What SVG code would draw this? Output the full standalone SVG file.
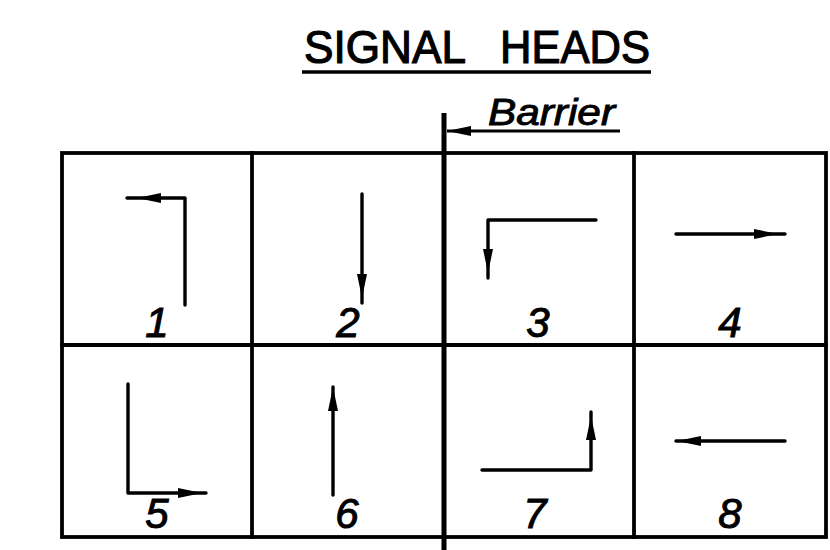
<svg xmlns="http://www.w3.org/2000/svg" xmlns:xlink="http://www.w3.org/1999/xlink" width="830" height="550" viewBox="0 0 830 550">
<style>
.grid{fill:none;stroke:#000;stroke-width:3.8;stroke-linecap:square}
.sig{fill:none;stroke:#000;stroke-width:3.4;stroke-linecap:round;stroke-linejoin:round}
.num{font-family:"Liberation Sans",Arial,sans-serif;font-style:italic;font-size:42px;text-anchor:middle;fill:#000;stroke:#000;stroke-width:1}
.title{font-family:"Liberation Sans",Arial,sans-serif;font-size:46px;fill:#000;stroke:#000;stroke-width:1.2}
.bar{font-family:"Liberation Sans",Arial,sans-serif;font-style:italic;font-size:36px;fill:#000;stroke:#000;stroke-width:0.9}
</style>
<defs>
<path id="ah" d="M0,0 L-24,-5 L-24,5 Z" fill="#000"/>
</defs>
<rect width="830" height="550" fill="#fff"/>
<g id="title">
<text class="title" y="63"><tspan x="304" textLength="162" lengthAdjust="spacingAndGlyphs">SIGNAL</tspan><tspan x="500" textLength="150" lengthAdjust="spacingAndGlyphs">HEADS</tspan></text>
<line x1="302" y1="72" x2="651" y2="72" stroke="#000" stroke-width="3.5"/>
</g>
<g id="grid">
<rect class="grid" x="62" y="153" width="764" height="384"/>
<line class="grid" x1="62" y1="345" x2="826" y2="345"/>
<line class="grid" x1="252" y1="153" x2="252" y2="537"/>
<line class="grid" x1="634" y1="153" x2="634" y2="537"/>
</g>
<g id="barrier">
<line x1="444" y1="113" x2="444" y2="550" stroke="#000" stroke-width="5"/>
<line x1="447" y1="131" x2="620" y2="131" stroke="#000" stroke-width="3"/>
<use xlink:href="#ah" transform="translate(447,131) rotate(180)"/>
<text class="bar" x="488" y="125" textLength="127" lengthAdjust="spacingAndGlyphs">Barrier</text>
</g>
<g id="head1">
<polyline class="sig" points="185,305 185,198 127,198"/>
<use xlink:href="#ah" transform="translate(137,198) rotate(180)"/>
<text class="num" x="157" y="337">1</text>
</g>
<g id="head2">
<line class="sig" x1="362" y1="194" x2="362" y2="303"/>
<use xlink:href="#ah" transform="translate(362,298) rotate(90)"/>
<text class="num" x="348" y="337">2</text>
</g>
<g id="head3">
<polyline class="sig" points="596,220 488,220 488,278"/>
<use xlink:href="#ah" transform="translate(488,273) rotate(90)"/>
<text class="num" x="538" y="337">3</text>
</g>
<g id="head4">
<line class="sig" x1="676" y1="234" x2="785" y2="234"/>
<use xlink:href="#ah" transform="translate(778,234)"/>
<text class="num" x="730" y="337">4</text>
</g>
<g id="head5">
<polyline class="sig" points="128,384 128,493 206,493"/>
<use xlink:href="#ah" transform="translate(202,493)"/>
<text class="num" x="157" y="528">5</text>
</g>
<g id="head6">
<line class="sig" x1="333" y1="387" x2="333" y2="495"/>
<use xlink:href="#ah" transform="translate(333,387) rotate(-90)"/>
<text class="num" x="347" y="528">6</text>
</g>
<g id="head7">
<polyline class="sig" points="482,470 591,470 591,412"/>
<use xlink:href="#ah" transform="translate(591,416) rotate(-90)"/>
<text class="num" x="535" y="528">7</text>
</g>
<g id="head8">
<line class="sig" x1="676" y1="441" x2="785" y2="441"/>
<use xlink:href="#ah" transform="translate(677,441) rotate(180)"/>
<text class="num" x="730" y="528">8</text>
</g>
</svg>
